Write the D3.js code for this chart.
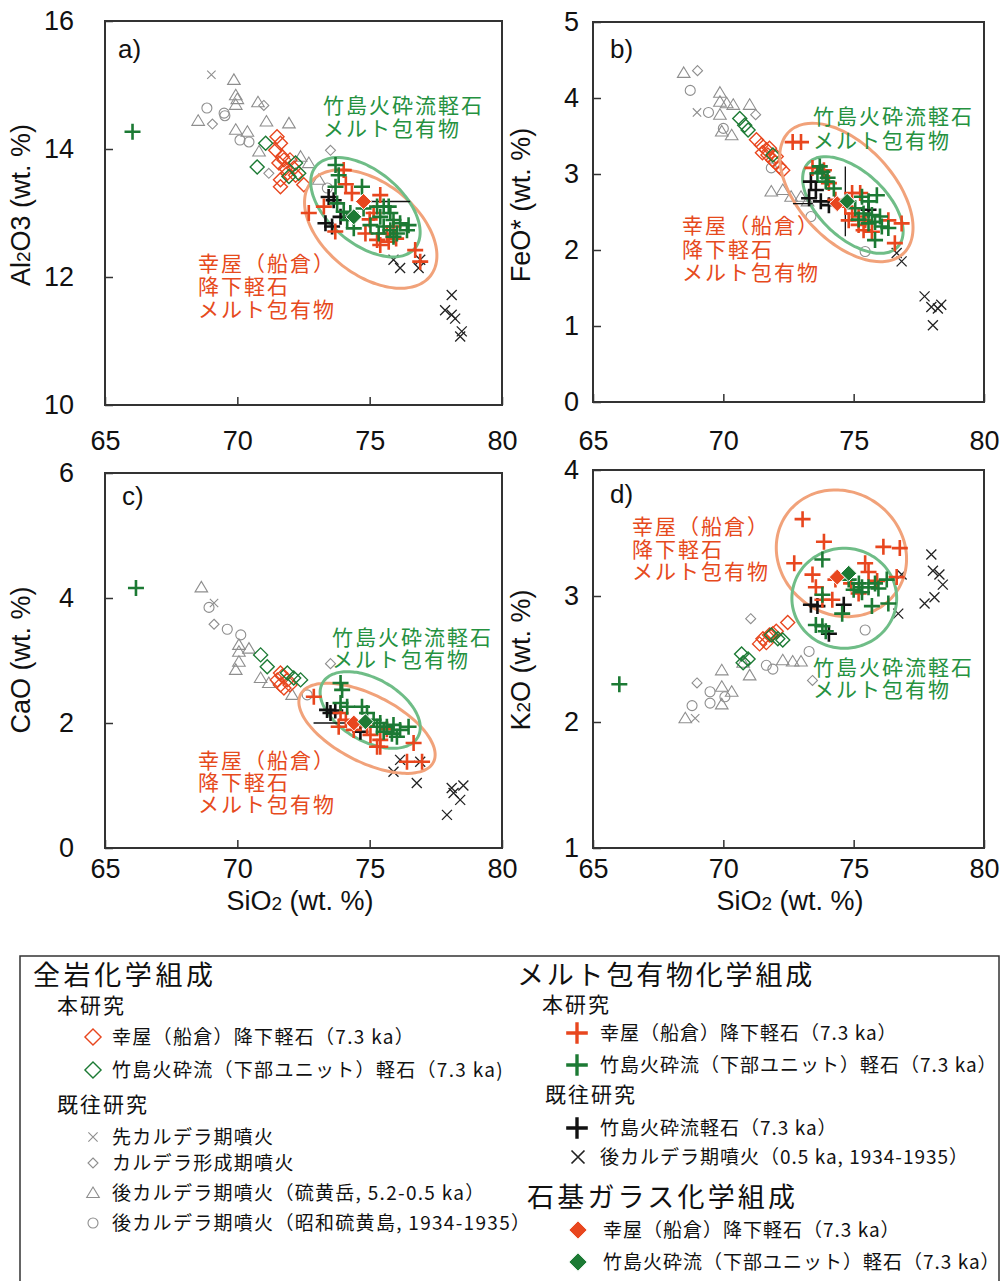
<!DOCTYPE html>
<html><head><meta charset="utf-8">
<script src="https://cdn.jsdelivr.net/npm/d3@7"></script>
<style>body{margin:0;background:#fff}svg{display:block}</style>
</head><body><svg id="chart" width="1001" height="1281"></svg>
<script>
// ---------------- tick labels ----------------
const xTicks = [65, 70, 75, 80];
const al2o3Ticks = [10, 12, 14, 16];
const feoTicks = [0, 1, 2, 3, 4, 5];
const caoTicks = [0, 2, 4, 6];
const k2oTicks = [1, 2, 3, 4];

// ---------------- a) Al2O3 vs SiO2 ----------------
const al2o3_preCaldera = [[69.02,15.16]];
const al2o3_calderaForming = [[71.0,14.68],[69.06,14.39],[73.52,13.98],[71.19,13.62]];
const al2o3_postIodake = [[69.87,15.08],[69.94,14.84],[70.0,14.78],[69.94,14.69],[70.78,14.73],[68.52,14.44],[71.1,14.43],[71.95,14.40],[69.94,14.30],[70.38,14.27],[70.82,13.96],[72.39,13.88],[72.7,13.78],[73.08,13.52]];
const al2o3_postShowa = [[68.85,14.64],[69.5,14.56],[69.53,14.52],[70.1,14.14],[70.44,14.11],[73.4,13.39]];
const al2o3_koyaWR = [[71.5,14.19],[71.63,14.09],[71.45,13.98],[71.7,13.88],[71.57,13.78],[71.82,13.70],[71.89,13.62],[71.63,13.52],[71.63,13.41],[72.13,13.70],[72.2,13.59],[72.51,13.44],[71.99,13.83],[71.76,13.83]];
const al2o3_takeshimaWR = [[71.07,14.09],[70.75,13.72],[72.2,13.78],[71.95,13.57],[72.32,13.62]];
const al2o3_koyaMI = [[74.02,13.67],[74.33,13.31],[75.4,13.28],[72.7,13.0],[73.27,13.10],[74.84,12.68],[75.28,12.58],[75.65,12.68],[75.9,12.79],[75.4,12.5],[75.72,12.55],[76.72,12.42],[76.91,12.24],[75.15,13.0],[73.7,12.71],[74.1,13.45],[75.0,12.9],[76.0,12.6]];
const al2o3_takeshimaMI = [[66.04,14.27],[73.71,13.75],[73.83,13.59],[74.71,13.41],[73.71,13.41],[73.77,13.15],[74.02,13.02],[74.27,13.0],[74.77,13.07],[75.28,13.10],[75.53,13.10],[75.72,13.10],[75.78,13.0],[75.4,12.94],[75.9,12.89],[76.15,12.84],[76.47,12.81],[76.41,12.73],[75.53,12.79],[75.78,12.73],[76.03,12.68],[74.4,12.76],[75.34,12.68],[75.9,12.63],[75.03,12.81],[74.15,12.89]];
const al2o3_takeshimaMIprev = [[73.45,13.25],[73.64,13.20],[73.33,12.84],[73.58,12.79],[73.9,12.94]];
const al2o3_postMI = [[75.9,12.27],[76.15,12.14],[76.91,12.27],[76.85,12.14],[78.1,11.72],[77.85,11.48],[78.1,11.41],[78.23,11.35],[78.48,11.15],[78.42,11.07]];
const al2o3_koyaGlass = [[74.77,13.18]];
const al2o3_takeshimaGlass = [[74.4,12.94]];
const al2o3_ellipseKoya = {c:[75.04,12.75], major:[77.30,12.02], minor:[73.97,12.18]};
const al2o3_ellipseTakeshima = {c:[74.84,13.09], major:[76.71,12.45], minor:[73.96,12.65]};
const al2o3_errorBars = [[[75.03,13.18],[76.53,13.18]]];

// ---------------- b) FeO* vs SiO2 ----------------
const feo_preCaldera = [[68.99,3.81]];
const feo_calderaForming = [[69.01,4.36],[71.24,3.78]];
const feo_postIodake = [[68.48,4.33],[69.87,4.07],[69.87,3.95],[70.13,3.93],[70.38,3.91],[71.01,3.91],[69.87,3.78],[69.94,3.56],[70.32,3.51],[71.84,2.77],[72.28,2.79],[72.6,2.70],[72.98,2.70],[73.23,2.64]];
const feo_postShowa = [[68.73,4.10],[69.43,3.81],[70.0,3.60],[71.84,3.08],[73.36,2.44],[75.44,1.98]];
const feo_koyaWR = [[71.27,3.45],[71.46,3.38],[71.65,3.32],[71.71,3.25],[71.9,3.18],[72.15,3.10],[72.28,3.05],[72.03,3.23],[71.77,3.34],[71.5,3.28],[72.0,3.15]];
const feo_takeshimaWR = [[70.63,3.73],[70.82,3.64],[70.95,3.58],[71.9,3.25]];
const feo_koyaMI = [[72.66,3.42],[72.98,3.42],[73.42,3.08],[73.86,3.05],[74.05,2.88],[74.94,2.75],[75.25,2.75],[74.68,2.57],[74.94,2.48],[75.19,2.44],[75.44,2.39],[75.19,2.33],[75.38,2.26],[75.7,2.24],[76.33,2.39],[76.84,2.35],[76.58,2.09],[74.81,2.39],[74.3,2.66]];
const feo_takeshimaMI = [[73.61,3.01],[73.80,3.03],[73.93,2.90],[74.24,2.81],[75.89,2.72],[75.32,2.70],[75.57,2.64],[75.06,2.55],[75.38,2.48],[75.70,2.46],[76.01,2.44],[75.82,2.37],[76.08,2.31],[76.33,2.29],[75.82,2.13],[75.19,2.40],[75.57,2.35],[73.7,3.1],[74.0,2.95]];
const feo_takeshimaMIprev = [[73.36,2.90],[73.55,2.79],[73.29,2.68],[73.74,2.64],[74.05,2.59],[75.57,2.53]];
const feo_postMI = [[76.65,1.96],[76.84,1.85],[77.72,1.39],[77.98,1.25],[78.23,1.23],[78.36,1.28],[78.04,1.01]];
const feo_koyaGlass = [[74.37,2.61]];
const feo_takeshimaGlass = [[74.75,2.64]];
const feo_ellipseKoya = {c:[74.72,2.757], major:[76.91,1.955], minor:[73.40,2.325]};
const feo_ellipseTakeshima = {c:[74.97,2.592], major:[76.70,2.046], minor:[74.12,2.266]};
const feo_errorBars = [[[74.68,3.10],[74.68,2.18]],[[72.67,2.61],[73.43,2.61]]];

// ---------------- c) CaO vs SiO2 ----------------
const cao_preCaldera = [[69.12,3.92]];
const cao_calderaForming = [[69.12,3.58],[73.52,2.95]];
const cao_postIodake = [[68.64,4.17],[70.06,3.25],[70.44,3.19],[70.06,3.14],[70.06,2.98],[69.94,2.85],[70.88,2.72],[71.19,2.64],[72.07,2.45]];
const cao_postShowa = [[68.93,3.85],[69.62,3.50],[70.13,3.41],[72.64,2.45]];
const cao_koyaWR = [[71.63,2.80],[71.51,2.69],[71.63,2.61],[71.76,2.56],[71.89,2.69],[71.99,2.61],[71.7,2.75]];
const cao_takeshimaWR = [[70.88,3.09],[71.13,2.90],[71.89,2.80],[72.13,2.72],[72.39,2.69]];
const cao_koyaMI = [[72.89,2.42],[73.9,2.16],[73.83,1.94],[74.4,1.89],[75.03,1.81],[75.4,1.73],[75.28,1.62],[75.65,1.90],[76.66,1.68],[75.4,1.62],[76.41,1.38],[76.98,1.38],[74.9,1.95],[74.1,2.05]];
const cao_takeshimaMI = [[66.17,4.16],[73.9,2.64],[73.96,2.53],[73.9,2.32],[74.15,2.26],[74.71,2.26],[74.9,2.16],[75.15,2.05],[75.4,2.0],[75.65,1.94],[75.9,1.97],[76.15,1.89],[76.47,1.94],[75.53,1.86],[75.84,1.83],[76.03,1.78],[75.28,1.94]];
const cao_takeshimaMIprev = [[73.39,2.21],[73.52,2.16],[74.65,1.86],[73.7,2.2]];
const cao_postMI = [[76.15,1.41],[76.91,1.38],[75.9,1.22],[76.78,1.04],[78.1,0.96],[78.54,1.0],[78.17,0.88],[78.42,0.77],[77.92,0.53]];
const cao_koyaGlass = [[74.4,2.0]];
const cao_takeshimaGlass = [[74.84,2.02]];
const cao_ellipseKoya = {c:[74.90,1.915], major:[77.41,1.374], minor:[74.33,1.438]};
const cao_ellipseTakeshima = {c:[75.02,2.208], major:[76.82,1.774], minor:[74.44,1.774]};
const cao_errorBars = [[[72.88,2.0],[74.16,2.0]]];

// ---------------- d) K2O vs SiO2 ----------------
const k2o_preCaldera = [[68.92,2.03]];
const k2o_calderaForming = [[68.99,2.31],[73.42,2.33],[71.05,2.82]];
const k2o_postIodake = [[68.54,2.03],[69.94,2.28],[70.32,2.24],[69.94,2.14],[69.94,2.41],[71.01,2.37],[72.28,2.49],[72.66,2.48],[72.98,2.48],[70.76,2.47]];
const k2o_postShowa = [[68.8,2.13],[69.49,2.24],[69.49,2.15],[70.06,2.20],[71.65,2.45],[71.9,2.42],[73.29,2.56],[75.44,2.73]];
const k2o_koyaWR = [[72.47,2.79],[72.03,2.72],[71.77,2.69],[71.52,2.66],[71.39,2.62],[71.65,2.63],[71.9,2.70]];
const k2o_takeshimaWR = [[70.7,2.54],[70.95,2.50],[70.76,2.47],[71.84,2.69],[72.09,2.66],[72.28,2.65]];
const k2o_koyaMI = [[73.04,3.61],[73.86,3.43],[72.72,3.26],[76.14,3.39],[76.77,3.38],[73.42,3.17],[73.55,3.07],[74.3,3.13],[75.44,3.26],[75.57,3.19],[76.65,3.15],[73.8,2.97],[74.18,2.97],[75.19,3.02],[74.9,3.1],[75.9,3.12]];
const k2o_takeshimaMI = [[66.01,2.30],[73.8,3.29],[74.81,3.13],[75.2,3.10],[75.32,3.07],[75.57,3.07],[75.82,3.10],[75.95,3.06],[76.27,3.13],[76.33,2.94],[75.70,2.92],[73.8,3.01],[74.56,2.86],[73.55,2.77],[73.8,2.76],[73.93,2.72],[75.32,3.03],[75.0,3.05]];
const k2o_takeshimaMIprev = [[73.36,2.93],[73.61,2.92],[74.05,2.70],[74.62,2.93]];
const k2o_postMI = [[77.98,3.33],[78.04,3.20],[78.29,3.17],[78.42,3.09],[78.1,2.99],[77.72,2.94],[76.71,2.86],[76.84,3.17]];
const k2o_koyaGlass = [[74.37,3.15]];
const k2o_takeshimaGlass = [[74.81,3.18]];
const k2o_ellipseKoya = {c:[74.53,3.339], major:[76.67,3.042], minor:[73.24,2.933]};
const k2o_ellipseTakeshima = {c:[74.64,2.982], major:[76.65,2.982], minor:[74.64,2.585]};
const k2o_errorBars = [];

// ---------------- text ----------------
const labelTakeshima = ["竹島火砕流軽石", "メルト包有物"];
const labelKoya = ["幸屋（船倉）", "降下軽石", "メルト包有物"];
const legendLeft = ["全岩化学組成", "本研究", "幸屋（船倉）降下軽石（7.3 ka）", "竹島火砕流（下部ユニット）軽石（7.3 ka)", "既往研究", "先カルデラ期噴火", "カルデラ形成期噴火", "後カルデラ期噴火（硫黄岳, 5.2-0.5 ka）", "後カルデラ期噴火（昭和硫黄島, 1934-1935）"];
const legendRight = ["メルト包有物化学組成", "本研究", "幸屋（船倉）降下軽石（7.3 ka）", "竹島火砕流（下部ユニット）軽石（7.3 ka）", "既往研究", "竹島火砕流軽石（7.3 ka）", "後カルデラ期噴火（0.5 ka, 1934-1935）", "石基ガラス化学組成", "幸屋（船倉）降下軽石（7.3 ka）", "竹島火砕流（下部ユニット）軽石（7.3 ka）"];

// ---------------- styles ----------------
const ORANGE = "#e8461e", GREEN = "#1c7a34", GRAY = "#8e8e8e", BLACK = "#111";
const ORANGE_TXT = "#e64a1c", GREEN_TXT = "#25913f";
const ORANGE_ELL = "#f1a27a", GREEN_ELL = "#6fbd87";
const LATIN = "'Liberation Sans', Arial, Helvetica, sans-serif";
const CJK = "'Noto Sans CJK JP', 'Noto Sans CJK SC', sans-serif";

const svg = d3.select("#chart");

function shapePath(type, s) {
  switch (type) {
    case "plus": return `M${-s},0H${s}M0,${-s}V${s}`;
    case "x": return `M${-s},${-s}L${s},${s}M${-s},${s}L${s},${-s}`;
    case "dia": return `M0,${-s}L${s},0L0,${s}L${-s},0Z`;
    case "tri": return `M0,${-s}L${s*1.05},${s*0.75}L${-s*1.05},${s*0.75}Z`;
    case "circ": return `M${s},0A${s},${s} 0 1,1 ${-s},0A${s},${s} 0 1,1 ${s},0Z`;
  }
}
const styles = {
  preCaldera: {t:"x", s:4.2, stroke:GRAY, sw:1.1, fill:"none"},
  calderaForming: {t:"dia", s:5, stroke:GRAY, sw:1.1, fill:"none"},
  postIodake: {t:"tri", s:6, stroke:GRAY, sw:1.1, fill:"none"},
  postShowa: {t:"circ", s:5, stroke:GRAY, sw:1.1, fill:"none"},
  koyaWR: {t:"dia", s:7, stroke:ORANGE, sw:1.4, fill:"none"},
  takeshimaWR: {t:"dia", s:7, stroke:GREEN, sw:1.4, fill:"none"},
  postMI: {t:"x", s:5, stroke:"#222", sw:1.3, fill:"none"},
  takeshimaMIprev: {t:"plus", s:8, stroke:BLACK, sw:2.6, fill:"none"},
  koyaMI: {t:"plus", s:8, stroke:ORANGE, sw:2.6, fill:"none"},
  takeshimaMI: {t:"plus", s:8, stroke:GREEN, sw:2.6, fill:"none"},
  koyaGlass: {t:"dia", s:8, stroke:"#fff", sw:1, fill:ORANGE},
  takeshimaGlass: {t:"dia", s:8, stroke:"#fff", sw:1, fill:GREEN}
};

const LEFTX = [105, 502], RIGHTX = [593, 984];
const panels = [
  {id:"a)", xr:LEFTX, yr:[405,21], dom:[10,16], ticks:al2o3Ticks, pad:31, xlab:{pad:26},
   ytitle:[["Al",0],["2",1],["O3 (wt. %)",0]], yt:[30,205], lab:[118,58], xt:null,
   series:{preCaldera:al2o3_preCaldera, calderaForming:al2o3_calderaForming, postIodake:al2o3_postIodake, postShowa:al2o3_postShowa, koyaWR:al2o3_koyaWR, takeshimaWR:al2o3_takeshimaWR, postMI:al2o3_postMI, takeshimaMIprev:al2o3_takeshimaMIprev, koyaMI:al2o3_koyaMI, takeshimaMI:al2o3_takeshimaMI, koyaGlass:al2o3_koyaGlass, takeshimaGlass:al2o3_takeshimaGlass},
   ellK:al2o3_ellipseKoya, ellT:al2o3_ellipseTakeshima, err:al2o3_errorBars,
   tTak:[323,[113,136]], tKoya:[198,[271,294,317]]},
  {id:"b)", xr:RIGHTX, yr:[402,22], dom:[0,5], ticks:feoTicks, pad:14, xlab:{pad:29},
   ytitle:[["FeO* (wt. %)",0]], yt:[530,205], lab:[610,58], xt:null,
   series:{preCaldera:feo_preCaldera, calderaForming:feo_calderaForming, postIodake:feo_postIodake, postShowa:feo_postShowa, koyaWR:feo_koyaWR, takeshimaWR:feo_takeshimaWR, postMI:feo_postMI, takeshimaMIprev:feo_takeshimaMIprev, koyaMI:feo_koyaMI, takeshimaMI:feo_takeshimaMI, koyaGlass:feo_koyaGlass, takeshimaGlass:feo_takeshimaGlass},
   ellK:feo_ellipseKoya, ellT:feo_ellipseTakeshima, err:feo_errorBars,
   tTak:[813,[124,148]], tKoya:[682,[233,257,280]]},
  {id:"c)", xr:LEFTX, yr:[848,473], dom:[0,6], ticks:caoTicks, pad:31, xlab:{pad:11},
   ytitle:[["CaO (wt. %)",0]], yt:[30,660], lab:[122,505], xt:[300,910],
   series:{preCaldera:cao_preCaldera, calderaForming:cao_calderaForming, postIodake:cao_postIodake, postShowa:cao_postShowa, koyaWR:cao_koyaWR, takeshimaWR:cao_takeshimaWR, postMI:cao_postMI, takeshimaMIprev:cao_takeshimaMIprev, koyaMI:cao_koyaMI, takeshimaMI:cao_takeshimaMI, koyaGlass:cao_koyaGlass, takeshimaGlass:cao_takeshimaGlass},
   ellK:cao_ellipseKoya, ellT:cao_ellipseTakeshima, err:cao_errorBars,
   tTak:[332,[645,667]], tKoya:[198,[768,790,812]]},
  {id:"d)", xr:RIGHTX, yr:[848,470], dom:[1,4], ticks:k2oTicks, pad:14, xlab:{pad:11},
   ytitle:[["K",0],["2",1],["O (wt. %)",0]], yt:[530,660], lab:[610,503], xt:[790,910],
   series:{preCaldera:k2o_preCaldera, calderaForming:k2o_calderaForming, postIodake:k2o_postIodake, postShowa:k2o_postShowa, koyaWR:k2o_koyaWR, takeshimaWR:k2o_takeshimaWR, postMI:k2o_postMI, takeshimaMIprev:k2o_takeshimaMIprev, koyaMI:k2o_koyaMI, takeshimaMI:k2o_takeshimaMI, koyaGlass:k2o_koyaGlass, takeshimaGlass:k2o_takeshimaGlass},
   ellK:k2o_ellipseKoya, ellT:k2o_ellipseTakeshima, err:k2o_errorBars,
   tTak:[813,[675,697]], tKoya:[632,[534,557,579]]}
];

function ellipsePath(e, x, y) {
  const cx = x(e.c[0]), cy = y(e.c[1]);
  const ux = x(e.major[0]) - cx, uy = y(e.major[1]) - cy;
  const vx = x(e.minor[0]) - cx, vy = y(e.minor[1]) - cy;
  const pts = d3.range(90).map(i => {
    const t = i / 90 * 2 * Math.PI;
    return [cx + ux * Math.cos(t) + vx * Math.sin(t), cy + uy * Math.cos(t) + vy * Math.sin(t)];
  });
  return d3.line().curve(d3.curveCardinalClosed)(pts);
}

const order = ["preCaldera","calderaForming","postIodake","postShowa","koyaWR","takeshimaWR","postMI","ELL","takeshimaMIprev","koyaMI","takeshimaMI","koyaGlass","takeshimaGlass"];

panels.forEach(p => {
  const x = d3.scaleLinear().domain([65, 80]).range(p.xr);
  const y = d3.scaleLinear().domain(p.dom).range(p.yr);
  const g = svg.append("g");

  // axes
  const ax = g.append("g").attr("transform", `translate(0,${p.yr[0]})`)
    .call(d3.axisBottom(x).tickValues(xTicks).tickFormat(d3.format("d")).tickSizeInner(-8).tickSizeOuter(0).tickPadding(p.xlab.pad));
  const ay = g.append("g").attr("transform", `translate(${p.xr[0]},0)`)
    .call(d3.axisLeft(y).tickValues(p.ticks).tickFormat(d3.format("d")).tickSizeInner(-8).tickSizeOuter(0).tickPadding(p.pad));
  [ax, ay].forEach(a => {
    a.select(".domain").remove();
    a.selectAll("line").attr("stroke", "#333").attr("stroke-width", 1.5);
    a.selectAll("text").attr("font-family", LATIN).attr("font-size", 27).attr("fill", "#111");
  });

  // frame
  g.append("rect").attr("x", p.xr[0]).attr("y", p.yr[1])
    .attr("width", p.xr[1] - p.xr[0]).attr("height", p.yr[0] - p.yr[1])
    .attr("fill", "none").attr("stroke", "#333").attr("stroke-width", 2);

  // panel letter
  g.append("text").attr("x", p.lab[0]).attr("y", p.lab[1]).text(p.id)
    .attr("font-family", LATIN).attr("font-size", 26).attr("fill", "#111");

  // y title
  const yt = g.append("text").attr("transform", `translate(${p.yt[0]},${p.yt[1]}) rotate(-90)`)
    .attr("text-anchor", "middle").attr("font-family", LATIN).attr("font-size", 27).attr("fill", "#111");
  p.ytitle.forEach(([s, sub]) => yt.append("tspan").text(s).attr("font-size", sub ? 19 : null));

  // x title
  if (p.xt) {
    const xt = g.append("text").attr("x", p.xt[0]).attr("y", p.xt[1]).attr("text-anchor", "middle")
      .attr("font-family", LATIN).attr("font-size", 27).attr("fill", "#111");
    [["SiO",0],["2",1],[" (wt. %)",0]].forEach(([s, sub]) => xt.append("tspan").text(s).attr("font-size", sub ? 19 : null));
  }

  // marks
  order.forEach(key => {
    if (key === "ELL") {
      g.append("path").attr("d", ellipsePath(p.ellK, x, y)).attr("fill", "none").attr("stroke", ORANGE_ELL).attr("stroke-width", 3);
      g.append("path").attr("d", ellipsePath(p.ellT, x, y)).attr("fill", "none").attr("stroke", GREEN_ELL).attr("stroke-width", 3);
      g.selectAll(null).data(p.err).enter().append("line")
        .attr("x1", d => x(d[0][0])).attr("y1", d => y(d[0][1]))
        .attr("x2", d => x(d[1][0])).attr("y2", d => y(d[1][1]))
        .attr("stroke", BLACK).attr("stroke-width", 1.3);
      return;
    }
    const st = styles[key];
    g.selectAll(null).data(p.series[key]).enter().append("path")
      .attr("d", shapePath(st.t, st.s))
      .attr("transform", d => `translate(${x(d[0])},${y(d[1])})`)
      .attr("fill", st.fill).attr("stroke", st.stroke).attr("stroke-width", st.sw);
  });

  // in-panel labels
  labelTakeshima.forEach((s, i) => g.append("text").attr("x", p.tTak[0]).attr("y", p.tTak[1][i]).text(s)
    .attr("font-family", CJK).attr("font-size", 21).attr("letter-spacing", 2).attr("fill", GREEN_TXT));
  labelKoya.forEach((s, i) => g.append("text").attr("x", p.tKoya[0]).attr("y", p.tKoya[1][i]).text(s)
    .attr("font-family", CJK).attr("font-size", 21).attr("letter-spacing", 2).attr("fill", ORANGE_TXT));
});

// ---------------- legend ----------------
const lg = svg.append("g");
lg.append("rect").attr("x", 20).attr("y", 956).attr("width", 979).attr("height", 340)
  .attr("fill", "none").attr("stroke", "#333").attr("stroke-width", 1.5);

function ltext(x, y, s, size, ls) {
  lg.append("text").attr("x", x).attr("y", y).text(s).attr("font-family", CJK)
    .attr("font-size", size).attr("letter-spacing", ls).attr("fill", "#111");
}
function lmark(x, y, key, scale) {
  const st = styles[key];
  lg.append("path").attr("d", shapePath(st.t, st.s * scale)).attr("transform", `translate(${x},${y})`)
    .attr("fill", st.fill).attr("stroke", st.stroke).attr("stroke-width", st.sw * (scale > 1.2 ? 1.3 : 1));
}
// left column
ltext(33, 985, legendLeft[0], 27, 3.6);
ltext(57, 1013, legendLeft[1], 21, 2);
lmark(93, 1037, "koyaWR", 1.15); ltext(112, 1044, legendLeft[2], 19, 1.3);
lmark(93, 1070, "takeshimaWR", 1.15); ltext(112, 1077, legendLeft[3], 19, 1.3);
ltext(57, 1112, legendLeft[4], 21, 2);
lmark(93, 1137, "preCaldera", 1.1); ltext(112, 1144, legendLeft[5], 19, 1.3);
lmark(93, 1163, "calderaForming", 1.0); ltext(112, 1170, legendLeft[6], 19, 1.3);
lmark(93, 1193, "postIodake", 1.0); ltext(112, 1200, legendLeft[7], 19, 1.3);
lmark(93, 1223, "postShowa", 1.0); ltext(112, 1230, legendLeft[8], 19, 1.3);
// right column
ltext(517, 985, legendRight[0], 27, 2.8);
ltext(542, 1012, legendRight[1], 21, 2);
lmark(577, 1033, "koyaMI", 1.35); ltext(600, 1040, legendRight[2], 19, 1.0);
lmark(577, 1065, "takeshimaMI", 1.35); ltext(600, 1072, legendRight[3], 19, 1.0);
ltext(545, 1102, legendRight[4], 21, 2);
lmark(577, 1128, "takeshimaMIprev", 1.35); ltext(600, 1135, legendRight[5], 19, 1.0);
lmark(578, 1157, "postMI", 1.3); ltext(600, 1164, legendRight[6], 19, 1.0);
ltext(527, 1207, legendRight[7], 27, 3.2);
lmark(578, 1230, "koyaGlass", 1.15); ltext(603, 1237, legendRight[8], 19, 1.0);
lmark(578, 1262, "takeshimaGlass", 1.15); ltext(603, 1269, legendRight[9], 19, 1.0);
</script></body></html>
